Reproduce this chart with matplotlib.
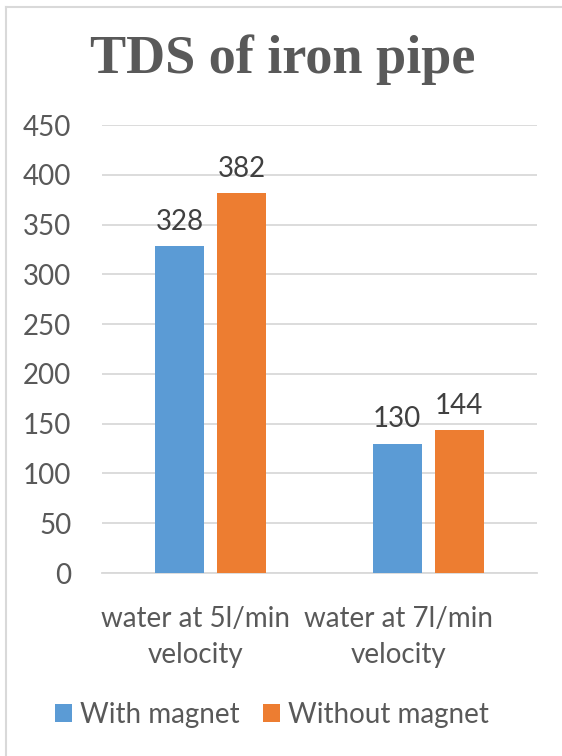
import numpy as np
import matplotlib.pyplot as plt
from matplotlib.lines import Line2D
from matplotlib.transforms import ScaledTranslation

categories = ['water at 5l/min\nvelocity', 'water at 7l/min\nvelocity']
with_magnet = [328, 130]
without_magnet = [382, 144]
series_names = ['With magnet', 'Without magnet']
yticks = [0, 50, 100, 150, 200, 250, 300, 350, 400, 450]

blue = '#5b9bd5'
orange = '#ed7d31'
text_grey = '#595959'

plt.rcParams['font.family'] = ['Lato', 'DejaVu Sans']

fig = plt.figure(figsize=(5.62, 7.56), dpi=100)
ax = fig.add_axes([102 / 562, 1 - 573 / 756, 435 / 562, 448 / 756])

x = np.arange(len(categories))
width = 0.225
offset = 0.143
b1 = ax.bar(x - offset, with_magnet, width, color=blue, label=series_names[0], zorder=3)
b2 = ax.bar(x + offset, without_magnet, width, color=orange, label=series_names[1], zorder=3)

# value labels above each bar
for bars in (b1, b2):
    ax.bar_label(bars, padding=8, fontsize=20, color='#404040')

ax.set_xlim(-0.5, 1.5)
ax.set_ylim(0, 450)
ax.set_yticks(yticks)
ax.set_xticks(x)
ax.set_xticklabels(categories, fontsize=20, color=text_grey, linespacing=1.45)
ax.tick_params(axis='y', labelsize=20, labelcolor=text_grey, length=0, pad=22)
ax.tick_params(axis='x', length=0, pad=24)

# category labels sit a little left of the bar groups
for lab, dx in zip(ax.get_xticklabels(), [-15, -30]):
    lab.set_transform(lab.get_transform() + ScaledTranslation(dx / 100, 0, fig.dpi_scale_trans))

ax.grid(axis='y', color='#d9d9d9', linewidth=1.3, zorder=0)
for s in ax.spines.values():
    s.set_visible(False)
ax.spines['bottom'].set_visible(True)
ax.spines['bottom'].set_color('#d9d9d9')
ax.spines['bottom'].set_linewidth(1.3)

fig.text(283 / 562, 1 - 60 / 756, 'TDS of iron pipe', ha='center', va='center',
         fontsize=39, fontweight='bold', color=text_grey,
         family=['Liberation Serif', 'DejaVu Serif'])

fig.legend(loc='center', bbox_to_anchor=(272 / 562, 1 - 715 / 756), ncol=2,
           frameon=False, fontsize=20, labelcolor=text_grey,
           handlelength=0.6, handleheight=0.6, handletextpad=0.3, columnspacing=0.85)

# chart border (left and top edges)
fig.add_artist(Line2D([6 / 562, 6 / 562], [0, 1 - 7 / 756], transform=fig.transFigure,
                      color='#d9d9d9', linewidth=1.5))
fig.add_artist(Line2D([6 / 562, 1], [1 - 7 / 756, 1 - 7 / 756], transform=fig.transFigure,
                      color='#d9d9d9', linewidth=1.5))

fig.savefig('out.png', dpi=100)
